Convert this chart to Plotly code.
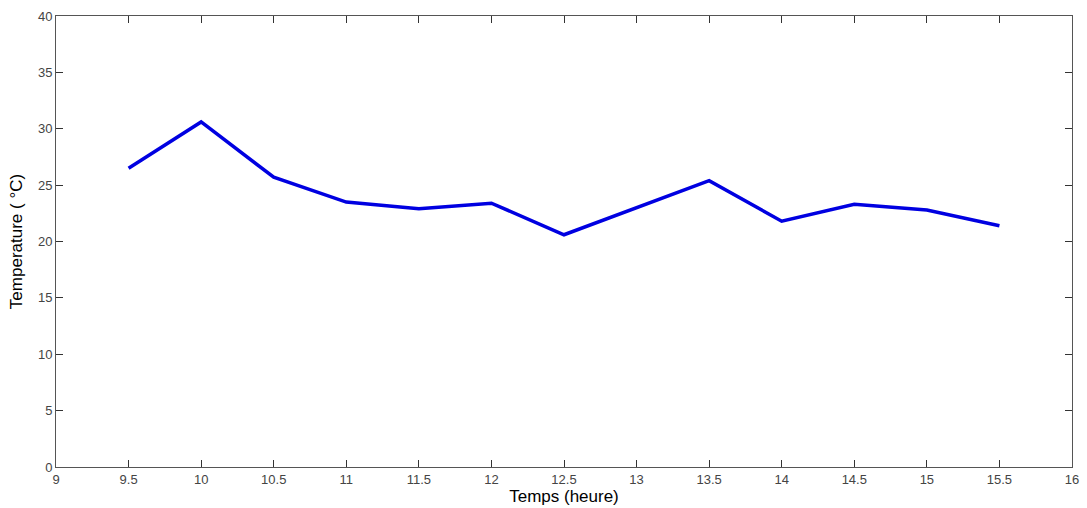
import plotly.graph_objects as go

temps_heure = [9.5, 10, 10.5, 11, 11.5, 12, 12.5, 13, 13.5, 14, 14.5, 15, 15.5]
temperature = [26.5, 30.6, 25.7, 23.5, 22.9, 23.4, 20.6, 23.0, 25.4, 21.8, 23.3, 22.8, 21.4]

x_ticks = [9, 9.5, 10, 10.5, 11, 11.5, 12, 12.5, 13, 13.5, 14, 14.5, 15, 15.5, 16]
y_ticks = [0, 5, 10, 15, 20, 25, 30, 35, 40]

fig = go.Figure()
fig.add_trace(go.Scatter(x=temps_heure, y=temperature, mode="lines",
                         line=dict(color="rgb(0,0,225)", width=3.5)))

axis_common = dict(showline=True, linecolor="#555555", linewidth=1, mirror="ticks",
                   ticks="inside", ticklen=7, tickcolor="#333333", showgrid=False,
                   zeroline=False, automargin=False,
                   tickfont=dict(family="Arial, Liberation Sans", size=13, color="#444444"))

fig.update_xaxes(range=[9, 16], tickvals=x_ticks, ticktext=[f"{v:g}" for v in x_ticks],
                 title=dict(text="Temps (heure)", font=dict(family="Arial, Liberation Sans", size=17, color="black"), standoff=4),
                 **axis_common)
fig.update_yaxes(range=[0, 40], tickvals=y_ticks,
                 title=dict(text="Temperature ( °C)", font=dict(family="Arial, Liberation Sans", size=17, color="black"), standoff=10),
                 **axis_common)

fig.update_layout(width=1087, height=508, margin=dict(l=56, r=15, t=16, b=41),
                  paper_bgcolor="white", plot_bgcolor="white", showlegend=False)

fig.write_html("out.html")
